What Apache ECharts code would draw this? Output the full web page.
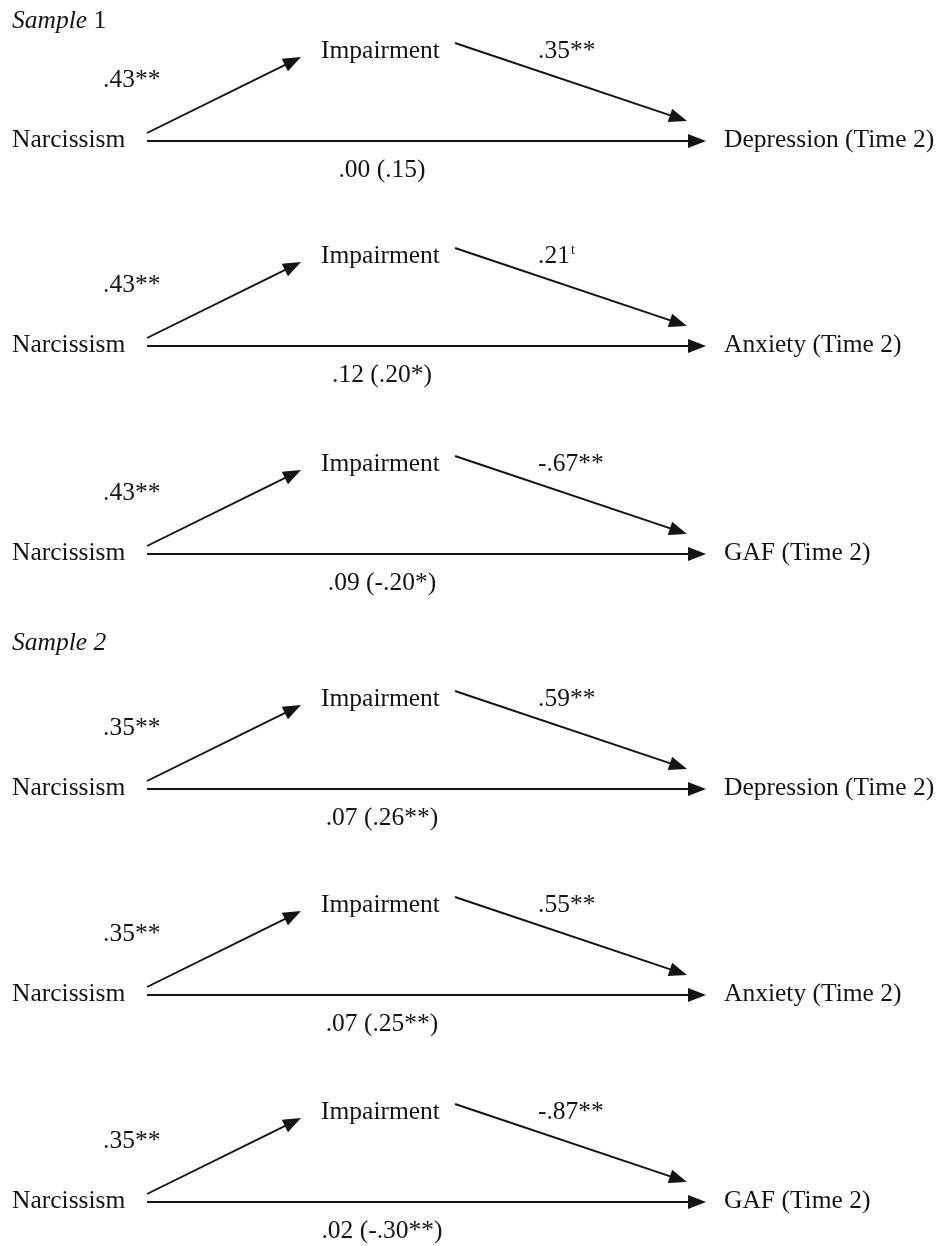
<!DOCTYPE html>
<html>
<head>
<meta charset="utf-8">
<script src="https://cdn.jsdelivr.net/npm/echarts@6/dist/echarts.min.js"></script>
<style>
html,body{margin:0;padding:0;background:#fff;}
#chart{width:941px;height:1246px;}
</style>
</head>
<body>
<div id="chart"></div>
<script>
// ---- data ----
const sampleTitles = ['{i|Sample} {r|1}', '{i|Sample 2}'];
const predictorName = 'Narcissism';
const mediatorName = 'Impairment';
const outcomes = ['Depression (Time 2)', 'Anxiety (Time 2)', 'GAF (Time 2)',
                  'Depression (Time 2)', 'Anxiety (Time 2)', 'GAF (Time 2)'];
const aPaths = ['.43**', '.43**', '.43**', '.35**', '.35**', '.35**'];
const bPaths = ['{n|.35**}', '{n|.21}{s|t}', '{n|-.67**}', '{n|.59**}', '{n|.55**}', '{n|-.87**}'];
const cPaths = ['.00 (.15)', '.12 (.20*)', '.09 (-.20*)', '.07 (.26**)', '.07 (.25**)', '.02 (-.30**)'];

// ---- layout (pixel-space of the value axes) ----
const W = 941, H = 1246;
const blockY = [141, 346, 554, 789, 995, 1202];
const sampleY = [21, 643];
const L = {
  predX: 12, predDy: -1,
  aStart: [147, -8], aEnd: [301, -84],
  medX: 321, medDy: -90,
  bStart: [455, -98], bEnd: [687, -20],
  cStart: 147, cEnd: 706,
  aLabX: 103, aLabDy: -61,
  bLabX: 538, bLabDy: -90,
  cLabX: 382, cLabDy: 29,
  outX: 724, outDy: -1
};
const FONT = "'Liberation Serif','Times New Roman',serif";
const FS = 25.5;
const INK = '#141414';

// build arrows and labels
const arrows = [];
const texts = [];
blockY.forEach((y, i) => {
  arrows.push([L.aStart[0], y + L.aStart[1], L.aEnd[0], y + L.aEnd[1]]);
  arrows.push([L.bStart[0], y + L.bStart[1], L.bEnd[0], y + L.bEnd[1]]);
  arrows.push([L.cStart, y, L.cEnd, y]);
  texts.push([L.predX, y + L.predDy, predictorName, 'left']);
  texts.push([L.medX, y + L.medDy, mediatorName, 'left']);
  texts.push([L.outX, y + L.outDy, outcomes[i], 'left']);
  texts.push([L.aLabX, y + L.aLabDy, aPaths[i], 'left']);
  texts.push([L.bLabX, y + L.bLabDy, bPaths[i], 'left']);
  texts.push([L.cLabX, y + L.cLabDy, cPaths[i], 'center']);
});
sampleTitles.forEach((t, i) => texts.push([12, sampleY[i], t, 'left']));

const rich = {
  i: {fontFamily: FONT, fontSize: FS, fontStyle: 'italic', fill: INK, color: INK},
  r: {fontFamily: FONT, fontSize: FS, fill: INK, color: INK},
  n: {fontFamily: FONT, fontSize: FS, fill: INK, color: INK},
  s: {fontFamily: FONT, fontSize: 14, fill: INK, color: INK, padding: [0, 0, 11, 1]}
};

const chart = echarts.init(document.getElementById('chart'), null, {renderer: 'canvas'});
chart.setOption({
  animation: false,
  backgroundColor: '#fff',
  grid: {left: 0, right: 0, top: 0, bottom: 0},
  xAxis: {type: 'value', min: 0, max: W, show: false},
  yAxis: {type: 'value', min: 0, max: H, inverse: true, show: false},
  series: [
    {
      type: 'custom',
      coordinateSystem: 'cartesian2d',
      data: arrows,
      encode: {x: [0, 2], y: [1, 3]},
      renderItem: function (params, api) {
        const p1 = api.coord([api.value(0), api.value(1)]);
        const p2 = api.coord([api.value(2), api.value(3)]);
        const dx = p2[0] - p1[0], dy = p2[1] - p1[1];
        const len = Math.sqrt(dx * dx + dy * dy);
        const ux = dx / len, uy = dy / len;
        const hl = 18, hw = 7;
        const bx = p2[0] - ux * hl, by = p2[1] - uy * hl;
        return {
          type: 'group',
          children: [
            {type: 'line', shape: {x1: p1[0], y1: p1[1], x2: bx + ux * 2, y2: by + uy * 2},
             style: {stroke: INK, lineWidth: 1.9}},
            {type: 'polygon', shape: {points: [
              [p2[0], p2[1]],
              [bx - uy * hw, by + ux * hw],
              [bx + uy * hw, by - ux * hw]
            ]}, style: {fill: INK}}
          ]
        };
      }
    },
    {
      type: 'custom',
      coordinateSystem: 'cartesian2d',
      data: texts,
      encode: {x: 0, y: 1},
      renderItem: function (params, api) {
        const d = texts[params.dataIndex];
        const p = api.coord([d[0], d[1]]);
        return {
          type: 'text',
          x: p[0], y: p[1],
          style: {
            text: d[2],
            font: FS + 'px ' + FONT,
            fill: INK,
            align: d[3],
            verticalAlign: 'middle',
            rich: rich
          }
        };
      }
    }
  ]
});
</script>
</body>
</html>
